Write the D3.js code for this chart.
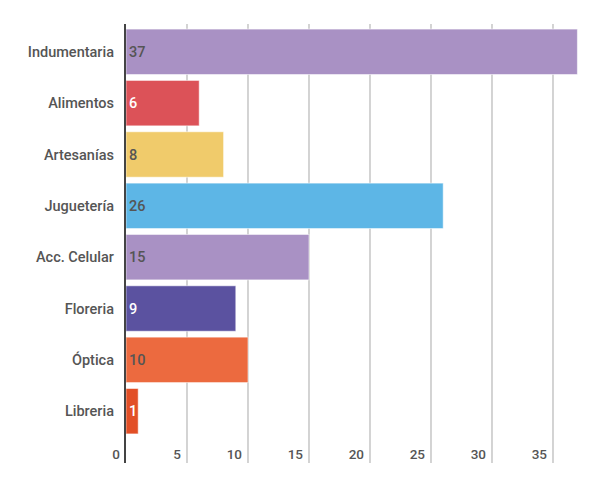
<!DOCTYPE html>
<html lang="es">
<head>
<meta charset="utf-8">
<script src="https://d3js.org/d3.v7.min.js"></script>
<style>
body { margin: 0; background: #fff; }
text { font-family: Roboto, sans-serif; font-weight: 500; }
</style>
</head>
<body>
<div id="chart"></div>
<script>
var categories = ["Indumentaria", "Alimentos", "Artesanías", "Juguetería", "Acc. Celular", "Floreria", "Óptica", "Libreria"];
var values = [37, 6, 8, 26, 15, 9, 10, 1];
var colors = ["#a991c4", "#dc5258", "#f0cb6b", "#5db6e6", "#a991c4", "#5b52a0", "#ec6a3f", "#e24f26"];
var darkLabel = [false, true, false, false, false, true, false, true];
var tickValues = [0, 5, 10, 15, 20, 25, 30, 35];

var w = 600, h = 487;
var plotLeft = 126, plotTop = 24, plotBottom = 463;

var svg = d3.select("#chart").append("svg")
  .attr("width", w).attr("height", h);

var x = d3.scaleLinear().domain([0, 37]).range([plotLeft, plotLeft + 37 * 12.2]);
var y = d3.scaleBand().domain(categories).range([26, 437]).paddingInner(0.115).paddingOuter(0.06);

// gridlines
svg.append("g").selectAll("line")
  .data(tickValues.slice(1))
  .enter().append("line")
  .attr("x1", d => x(d)).attr("x2", d => x(d))
  .attr("y1", plotTop).attr("y2", plotBottom)
  .attr("stroke", "#c9c9c9").attr("stroke-width", 1.6);

// bars
svg.append("g").selectAll("rect")
  .data(values)
  .enter().append("rect")
  .attr("x", x(0))
  .attr("y", (d, i) => y(categories[i]))
  .attr("width", d => x(d) - x(0))
  .attr("height", y.bandwidth())
  .attr("fill", (d, i) => colors[i])
  .attr("stroke", "rgba(255,255,255,0.55)")
  .attr("stroke-width", 1);

// value labels
svg.append("g").selectAll("text")
  .data(values)
  .enter().append("text")
  .attr("x", x(0) + 3)
  .attr("y", (d, i) => y(categories[i]) + y.bandwidth() / 2)
  .attr("dy", "0.36em")
  .attr("font-size", 14.5)
  .attr("fill", (d, i) => darkLabel[i] ? "#fff" : "#555")
  .text(d => d);

// category labels
svg.append("g").selectAll("text")
  .data(categories)
  .enter().append("text")
  .attr("x", 114)
  .attr("y", d => y(d) + y.bandwidth() / 2)
  .attr("dy", "0.36em")
  .attr("text-anchor", "end")
  .attr("font-size", 14.5)
  .attr("fill", "#555")
  .text(d => d);

// tick labels
svg.append("g").selectAll("text")
  .data(tickValues)
  .enter().append("text")
  .attr("x", d => x(d) - 6)
  .attr("y", 459)
  .attr("text-anchor", "end")
  .attr("font-size", 13.5)
  .attr("fill", "#555")
  .text(d => d);

// axis line
svg.append("line")
  .attr("x1", x(0) - 1).attr("x2", x(0) - 1)
  .attr("y1", plotTop).attr("y2", plotBottom)
  .attr("stroke", "#444").attr("stroke-width", 2);
</script>
</body>
</html>
